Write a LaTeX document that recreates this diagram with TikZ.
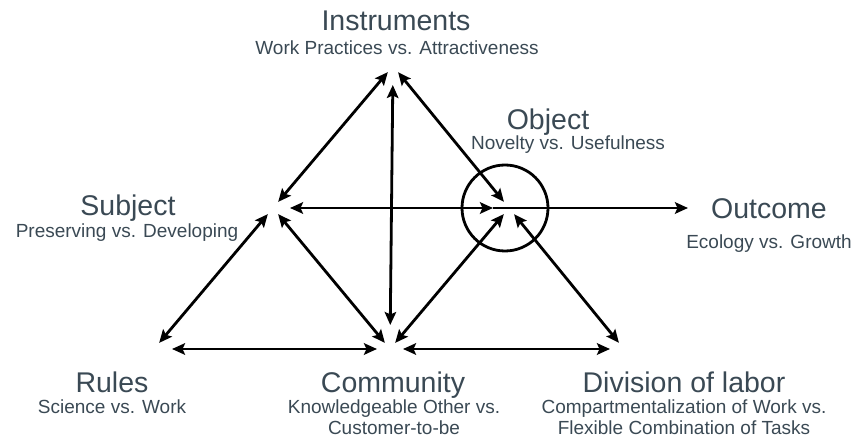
\documentclass[tikz,border=0pt]{standalone}
\usepackage{fontspec}
\setmainfont{Liberation Sans}
\usetikzlibrary{arrows.meta, positioning}
\definecolor{labeltext}{HTML}{3A4954}

\begin{document}
\begin{tikzpicture}[
    x=1pt, y=-1pt,
    >={Stealth[length=13pt, width=11.5pt, inset=2.5pt]},
    heading/.style={anchor=base, inner sep=0pt, text=labeltext,
                    font=\fontsize{28.5}{30}\selectfont},
    caption/.style={anchor=base, inner sep=0pt, text=labeltext,
                    font=\fontsize{19}{21}\selectfont},
    captwo/.style={anchor=north, inner sep=0pt, text=labeltext, align=center,
                   font=\fontsize{19}{21}\selectfont},
    arrow/.style={->, line width=2.8pt},
    dblarrow/.style={<->, line width=2.8pt, shorten <=8pt, shorten >=8pt},
]
\useasboundingbox (0,0) rectangle (854,438);

% corners of the activity system
\coordinate (I) at (393,66);
\coordinate (S) at (273,208);
\coordinate (O) at (509,208);
\coordinate (R) at (154,349);
\coordinate (C) at (390,349);
\coordinate (D) at (624,349);
\coordinate (outc) at (688,208);

% labels
\node[heading] (instT) at (396,31) {Instruments};
\node[caption] (instS) at (397,55) {Work Practices vs. Attractiveness};
\node[heading] (objT) at (548,130) {Object};
\node[caption] (objS) at (568,150) {Novelty vs. Usefulness};
\node[heading] (subjT) at (128,216) {Subject};
\node[caption] (subjS) at (127,238) {Preserving vs. Developing};
\node[heading] (outT) at (769,219) {Outcome};
\node[caption] (outS) at (769,249) {Ecology vs. Growth};
\node[heading] (rulT) at (112,392) {Rules};
\node[caption] (rulS) at (112,413) {Science vs. Work};
\node[heading] (comT) at (393,392) {Community};
\node[captwo] (comS) at (394,400) {Knowledgeable Other vs.\\Customer-to-be};
\node[heading] (divT) at (684,392) {Division of labor};
\node[captwo] (divS) at (684,400) {Compartmentalization of Work vs.\\Flexible Combination of Tasks};

% object ring
\node[draw, circle, line width=2.8pt, minimum size=86pt, inner sep=0pt] (ring) at (505,208) {};

% connectors
\draw[dblarrow] (R) -- (S);
\draw[dblarrow] (S) -- (I);
\draw[dblarrow] (I) -- (O);
\draw[dblarrow] (O) -- (D);
\draw[dblarrow] (S) -- (C);
\draw[dblarrow] (O) -- (C);
\draw[dblarrow, shorten <=24pt, shorten >=19pt] (C) -- (I);
\draw[dblarrow, shorten <=17pt, shorten >=16pt] (S) -- (O);
\draw[arrow, shorten <=-16pt] (O) -- (outc);
\draw[dblarrow, shorten <=18pt, shorten >=13pt] (R) -- (C);
\draw[dblarrow, shorten <=13pt, shorten >=14pt] (C) -- (D);
\end{tikzpicture}
\end{document}
